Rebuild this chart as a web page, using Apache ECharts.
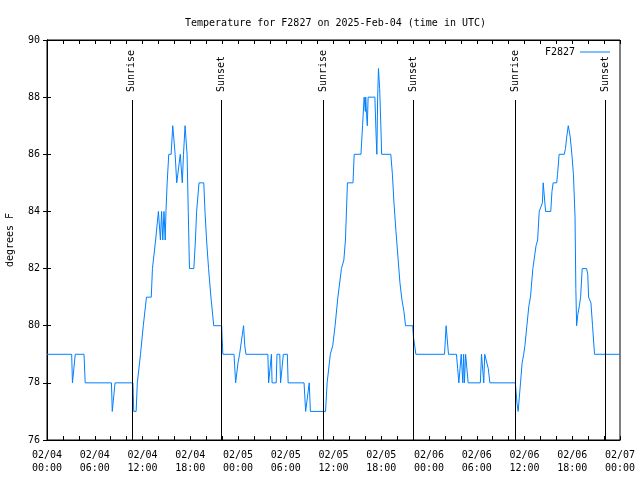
<!DOCTYPE html>
<html>
<head>
<meta charset="utf-8">
<script src="https://cdn.jsdelivr.net/npm/echarts@6/dist/echarts.min.js"></script>
<style>html,body{margin:0;padding:0;background:#fff;}#c{width:640px;height:480px;}</style>
</head>
<body>
<div id="c"></div>
<script>
// hours since 2025-02-04 00:00 UTC
var hours = [0,3.1,3.2,3.45,3.55,4.65,4.8,8.1,8.2,8.4,8.55,10.8,10.9,11.2,11.35,11.5,11.75,11.95,12.1,12.3,12.5,13.1,13.25,13.45,13.65,13.9,14.0,14.1,14.25,14.4,14.55,14.7,14.85,14.95,15.1,15.3,15.6,15.8,15.9,16.1,16.3,16.55,16.75,16.85,17.0,17.15,17.35,17.45,17.6,17.75,17.9,18.45,18.65,18.8,18.95,19.1,19.7,19.85,20.05,20.3,20.6,20.95,21.95,22.0,22.1,23.5,23.7,23.8,24.0,24.2,24.55,24.7,24.85,25.0,27.75,27.85,28.1,28.2,28.28,28.8,28.9,29.25,29.35,29.6,29.7,30.2,30.3,32.3,32.5,32.7,32.95,33.0,33.1,35.0,35.2,35.6,35.9,36.2,36.55,37.0,37.3,37.5,37.75,38.45,38.6,39.45,39.65,39.85,40.0,40.05,40.15,40.25,40.35,41.2,41.35,41.45,41.55,41.65,41.8,41.95,42.05,43.2,43.4,43.6,43.85,44.1,44.35,44.6,44.85,45.05,45.95,46.05,46.2,46.35,49.95,50.15,50.25,50.45,51.45,51.6,51.75,51.95,52.05,52.15,52.25,52.35,52.45,52.6,52.8,52.92,54.45,54.6,54.75,54.88,55.0,55.25,55.45,55.65,58.85,59.05,59.2,59.3,59.5,59.7,59.9,60.05,60.3,60.55,60.75,61.05,61.45,61.65,61.85,62.1,62.25,62.35,62.55,62.65,63.3,63.45,63.6,64.05,64.15,64.35,65.0,65.15,65.3,65.5,65.6,65.75,65.95,66.15,66.35,66.45,66.55,66.7,66.9,67.05,67.25,67.8,67.95,68.05,68.25,68.35,68.55,68.8,72];
var tempsF = [79,79,78,78,79,79,78,78,77,77,78,78,77,77,78,78,79,79,80,80,81,81,82,82,83,83,84,84,83,84,83,84,83,84,85,86,86,87,87,86,85,85,86,86,85,86,87,87,86,84,82,82,83,84,84,85,85,84,83,82,81,80,80,79.6,79,79,78,78,78.7,79,79.7,80,79.3,79,79,78,78,79,78,78,79,79,78,78,79,79,78,78,77,77,78,78,77,77,78,79,79.3,80,81,82,82.3,83,85,85,86,86,87,88,87.5,88,87.4,87,88,88,86.7,86,88,89,88.3,87,86,86,85.3,84.3,83.3,82.4,81.5,80.9,80.5,80,80,79.6,79.3,79,79,80,80,79,79,78.5,78,78,79,79,78,79,78,79,79,78,78,79,79,78,79,79,78.5,78,78,77.3,77,77,78,78.7,79,79.3,80,80.7,81,82,82.8,83,84,84,84.3,85,85,84,84,84.7,85,85,85.3,86,86,86.2,86.6,87,87,86.6,86,85.3,83.8,81.3,80,80.4,80.7,81,82,82,81.8,81,81,80.8,80,79,79];
var sunrise = [10.65, 34.74, 58.87];
var sunset = [21.93, 46.06, 70.18];
var tickLabels = ['02/04\n00:00','02/04\n06:00','02/04\n12:00','02/04\n18:00','02/05\n00:00','02/05\n06:00','02/05\n12:00','02/05\n18:00','02/06\n00:00','02/06\n06:00','02/06\n12:00','02/06\n18:00','02/07\n00:00'];
var yTicks = [76, 90, 2];
var seriesName = 'F2827';

var FONT = 'DejaVu Sans Mono';
var lineTop = 87.9;
var data = hours.map(function (h, i) { return [h, tempsF[i]]; });

var marks = [];
function addMark(t, name) {
  marks.push([{coord: [t, yTicks[0]], lineStyle: {color: '#000', width: 1, type: 'solid'}, label: {show: false}},
              {coord: [t, lineTop]}]);
  marks.push([{coord: [t, lineTop], lineStyle: {color: 'rgba(0,0,0,0)', width: 1},
               label: {show: true, formatter: name, position: 'insideStartTop', distance: [8, 0],
                       verticalAlign: 'middle', color: '#000', fontFamily: FONT, fontSize: 10}},
              {coord: [t, yTicks[1]]}]);
}
sunrise.forEach(function (t) { addMark(t, 'Sunrise'); });
sunset.forEach(function (t) { addMark(t, 'Sunset'); });

var chart = echarts.init(document.getElementById('c'), null, {renderer: 'canvas'});
var tickCommon = {show: true, inside: true, length: 4, lineStyle: {color: '#000', width: 1}};
chart.setOption({
  animation: false,
  backgroundColor: '#fff',
  textStyle: {fontFamily: FONT},
  title: {
    text: 'Temperature for F2827 on 2025-Feb-04 (time in UTC)',
    left: 180, top: 13,
    textStyle: {fontFamily: FONT, fontSize: 10, fontWeight: 'normal', color: '#000'}
  },
  legend: {
    right: 30, top: 47, padding: 0, align: 'right',
    icon: 'rect', itemWidth: 30, itemHeight: 1,
    textStyle: {fontFamily: FONT, fontSize: 10, color: '#000'},
    data: [seriesName]
  },
  grid: {left: 47, right: 20, top: 40, bottom: 40, show: true, borderColor: '#000', borderWidth: 1,
         containLabel: false, outerBoundsMode: 'none'},
  xAxis: [{
    type: 'value', min: 0, max: 72, interval: 2,
    axisLine: {show: true, lineStyle: {color: '#000'}},
    axisTick: tickCommon,
    splitLine: {show: false},
    axisLabel: {
      show: true, margin: 9, color: '#000', fontFamily: FONT, fontSize: 10, lineHeight: 13,
      showMinLabel: true, showMaxLabel: true,
      formatter: function (v) { return (v % 6 === 0) ? tickLabels[v / 6] : ''; }
    }
  }, {
    type: 'value', min: 0, max: 72, interval: 2, position: 'top',
    axisLine: {show: true, lineStyle: {color: '#000'}},
    axisTick: tickCommon, axisLabel: {show: false}, splitLine: {show: false}
  }],
  yAxis: [{
    type: 'value', min: yTicks[0], max: yTicks[1], interval: yTicks[2],
    name: 'degrees F', nameLocation: 'middle', nameGap: 32, nameRotate: 90,
    nameTextStyle: {fontFamily: FONT, fontSize: 10, color: '#000'},
    axisLine: {show: true, lineStyle: {color: '#000'}},
    axisTick: tickCommon,
    splitLine: {show: false},
    axisLabel: {margin: 7, color: '#000', fontFamily: FONT, fontSize: 10}
  }, {
    type: 'value', min: yTicks[0], max: yTicks[1], interval: yTicks[2], position: 'right',
    axisLine: {show: true, lineStyle: {color: '#000'}},
    axisTick: tickCommon, axisLabel: {show: false}, splitLine: {show: false}
  }],
  series: [{
    name: seriesName, type: 'line', data: data,
    showSymbol: false, symbol: 'none',
    lineStyle: {color: '#0080ff', width: 1},
    itemStyle: {color: '#0080ff'},
    markLine: {silent: true, symbol: ['none', 'none'], animation: false, data: marks}
  }]
});
</script>
</body>
</html>
